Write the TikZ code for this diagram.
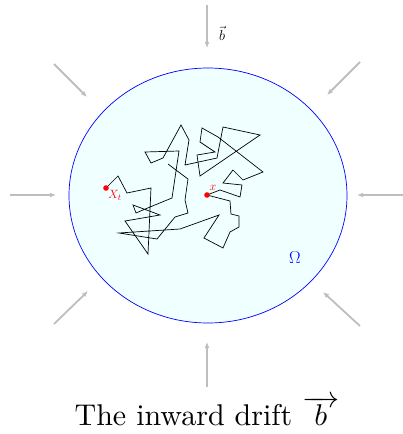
\documentclass[tikz,border=0pt]{standalone}
\usetikzlibrary{arrows.meta}
\definecolor{domaincol}{RGB}{240,255,255}
\definecolor{driftcol}{RGB}{190,190,190}

\begin{document}
\begin{tikzpicture}[x=1pt, y=-1pt, every node/.style={font=\fontsize{12}{14}\selectfont}]
  \useasboundingbox (0,0) rectangle (403,434);
  % Domain Omega
  \draw[blue, line width=0.7pt, fill=domaincol] (208,195.5) ellipse [x radius=139, y radius=127.5];
  \node[blue, font=\fontsize{19}{22}\selectfont] (omega) at (295,258) {$\Omega$};
  % Drift arrows, all pointing inward
  \foreach \sx/\sy/\ex/\ey in {207/5/207/48, 207/387/207/342, 10/195/56/195, 403/195/357/195,
                               54/64/87/97, 360/62/327/95, 54/324/88/291, 360/326/323/292}
    \draw[driftcol, line width=1.8pt, -{Latex[length=6pt,width=5pt]}] (\sx,\sy) -- (\ex,\ey);
  \node[font=\fontsize{14}{16}\selectfont] (bvec) at (222,33) {$\vec{b}$};
  % Random walk
  \draw[line width=0.7pt] (106,188) -- (118,176) -- (127,193) -- (151,188) -- (148,254)
    -- (125,221) -- (160,215) -- (133,205) -- (136,213) -- (150,207) -- (172,198)
    -- (179,151) -- (145,152) -- (151,163) -- (163,158) -- (181,125) -- (189,140)
    -- (185,165) -- (217,158) -- (223,127) -- (260,135) -- (200,176) -- (197,155)
    -- (215,152) -- (200,142) -- (202,128) -- (218,137) -- (263,172) -- (243,180)
    -- (233,170) -- (223,183) -- (242,185) -- (240,197) -- (220,190) -- (207,195)
    -- (230,201) -- (231,214) -- (239,216) -- (239,227) -- (230,232) -- (223,248)
    -- (204,238) -- (219,215) -- (180,229) -- (119,233) -- (157,239) -- (175,217)
    -- (188,213) -- (185,200) -- (188,179) -- (168,164);
  % Start and end points
  \fill[red] (207,195) circle [radius=2.8];
  \fill[red] (106,188) circle [radius=2.8];
  \node[red] (xlab) at (213,188) {$x$};
  \node[red, font=\fontsize{13}{15}\selectfont] (xtlab) at (115,195) {$X_t$};
  % Caption
  \node[font=\normalsize, scale=3, anchor=base west, inner sep=0pt] (caption) at (74,425)
    {The inward drift\ $\overrightarrow{\hspace{4pt}b\hspace{4pt}}$};
\end{tikzpicture}
\end{document}
